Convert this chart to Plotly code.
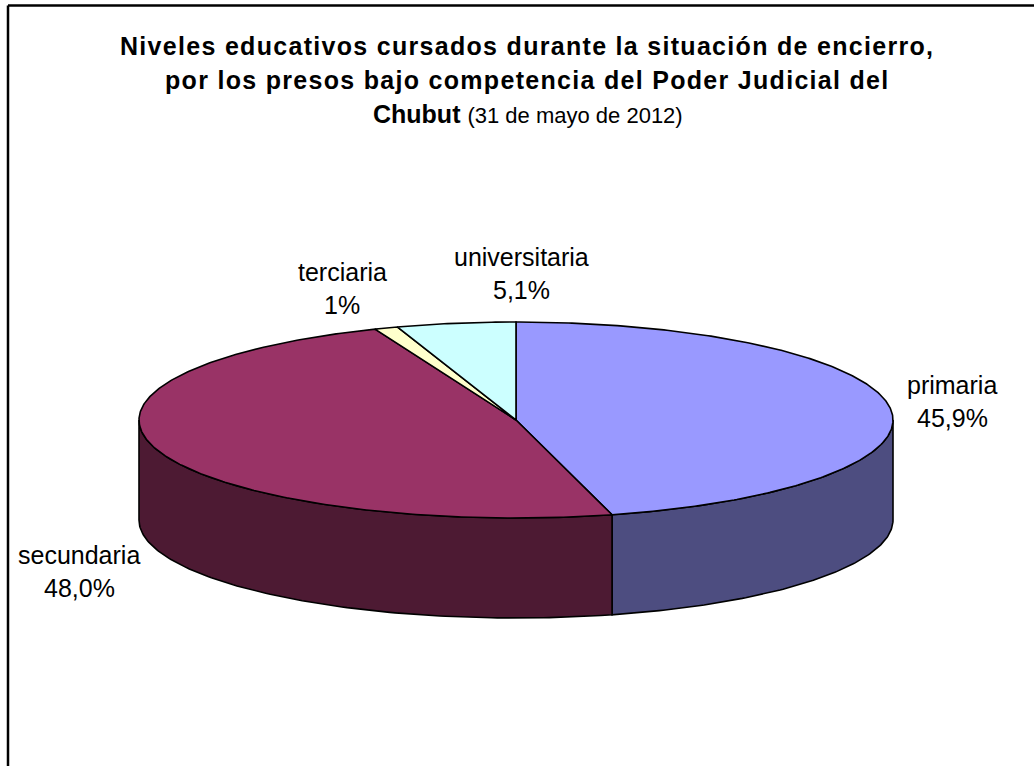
import numpy as np
import plotly.graph_objects as go

# ---- data ----
categories = ["primaria", "secundaria", "terciaria", "universitaria"]
values = [45.9, 48.0, 1.0, 5.1]
pct_labels = ["45,9%", "48,0%", "1%", "5,1%"]
top_colors = ["#9999FF", "#993366", "#FFFFCC", "#CCFFFF"]
side_colors = ["#4D4D80", "#4D1A33", "#80806A", "#6A8080"]

# ---- geometry (layout only) ----
W, H = 1034, 766
cx, cy = 516, 420
rx, ry = 377, 98
depth = 100

def pt(theta_deg, dy=0.0):
    t = np.radians(theta_deg)
    return cx + rx * np.sin(t), cy - ry * np.cos(t) + dy

total = sum(values)
bounds = np.concatenate([[0], np.cumsum(values) / total * 360.0])

fig = go.Figure()

# side walls (front half only: 90..270 deg clockwise from top)
for i, cat in enumerate(categories):
    a, b = max(bounds[i], 90.0), min(bounds[i + 1], 270.0)
    if b <= a:
        continue
    th = np.linspace(a, b, 120)
    xt, yt = pt(th)
    xb, yb = pt(th[::-1], depth)
    xs = np.concatenate([xt, xb, [xt[0]]])
    ys = np.concatenate([yt, yb, [yt[0]]])
    fig.add_trace(go.Scatter(x=xs, y=ys, mode="lines", fill="toself",
                             fillcolor=side_colors[i],
                             line=dict(color="black", width=1.6),
                             hoverinfo="skip", showlegend=False))

# top face slices
for i, cat in enumerate(categories):
    a, b = bounds[i], bounds[i + 1]
    th = np.linspace(a, b, max(int((b - a) * 2), 6))
    xt, yt = pt(th)
    xs = np.concatenate([[cx], xt, [cx]])
    ys = np.concatenate([[cy], yt, [cy]])
    fig.add_trace(go.Scatter(x=xs, y=ys, mode="lines", fill="toself",
                             fillcolor=top_colors[i],
                             line=dict(color="black", width=1.6),
                             hoverinfo="skip", showlegend=False, name=cat))

# data labels (two lines each)
label_pos = {"primaria": (952, 385), "secundaria": (79, 555),
             "terciaria": (342, 272), "universitaria": (521, 257)}
lab_font = dict(family="Liberation Sans, Arial", size=25, color="black")
for cat, pl in zip(categories, pct_labels):
    x, y = label_pos[cat]
    for k, t in enumerate([cat, pl]):
        fig.add_annotation(x=x, y=y + 33 * k, xref="x", yref="y",
                           text=t, showarrow=False, font=lab_font)

# title
title_font = dict(family="Liberation Sans, Arial", size=25, color="black")
fig.add_annotation(x=527, y=46, xref="x", yref="y", showarrow=False,
                   text="<span style='letter-spacing:1.3px'><b>Niveles educativos cursados durante la situación de encierro,</b></span>",
                   font=title_font)
fig.add_annotation(x=527, y=80, xref="x", yref="y", showarrow=False,
                   text="<span style='letter-spacing:1.3px'><b>por los presos bajo competencia del Poder Judicial del</b></span>",
                   font=title_font)
fig.add_annotation(x=528, y=114, xref="x", yref="y", showarrow=False,
                   text="<b>Chubut</b> <span style='font-size:22px'>(31 de mayo de 2012)</span>",
                   font=title_font)

# frame
fig.add_shape(type="line", x0=8, y0=5.5, x1=W + 5, y1=5.5, xref="x", yref="y",
              line=dict(color="black", width=2.5))
fig.add_shape(type="line", x0=8, y0=5.5, x1=8, y1=H + 5, xref="x", yref="y",
              line=dict(color="black", width=2.5))

fig.update_layout(width=W, height=H, margin=dict(l=0, r=0, t=0, b=0),
                  paper_bgcolor="white", plot_bgcolor="white",
                  xaxis=dict(range=[0, W], visible=False, fixedrange=True),
                  yaxis=dict(range=[H, 0], visible=False, fixedrange=True),
                  showlegend=False)

fig.write_html("out.html", config={"displayModeBar": False},
               post_script="document.body.style.margin='0px';")
